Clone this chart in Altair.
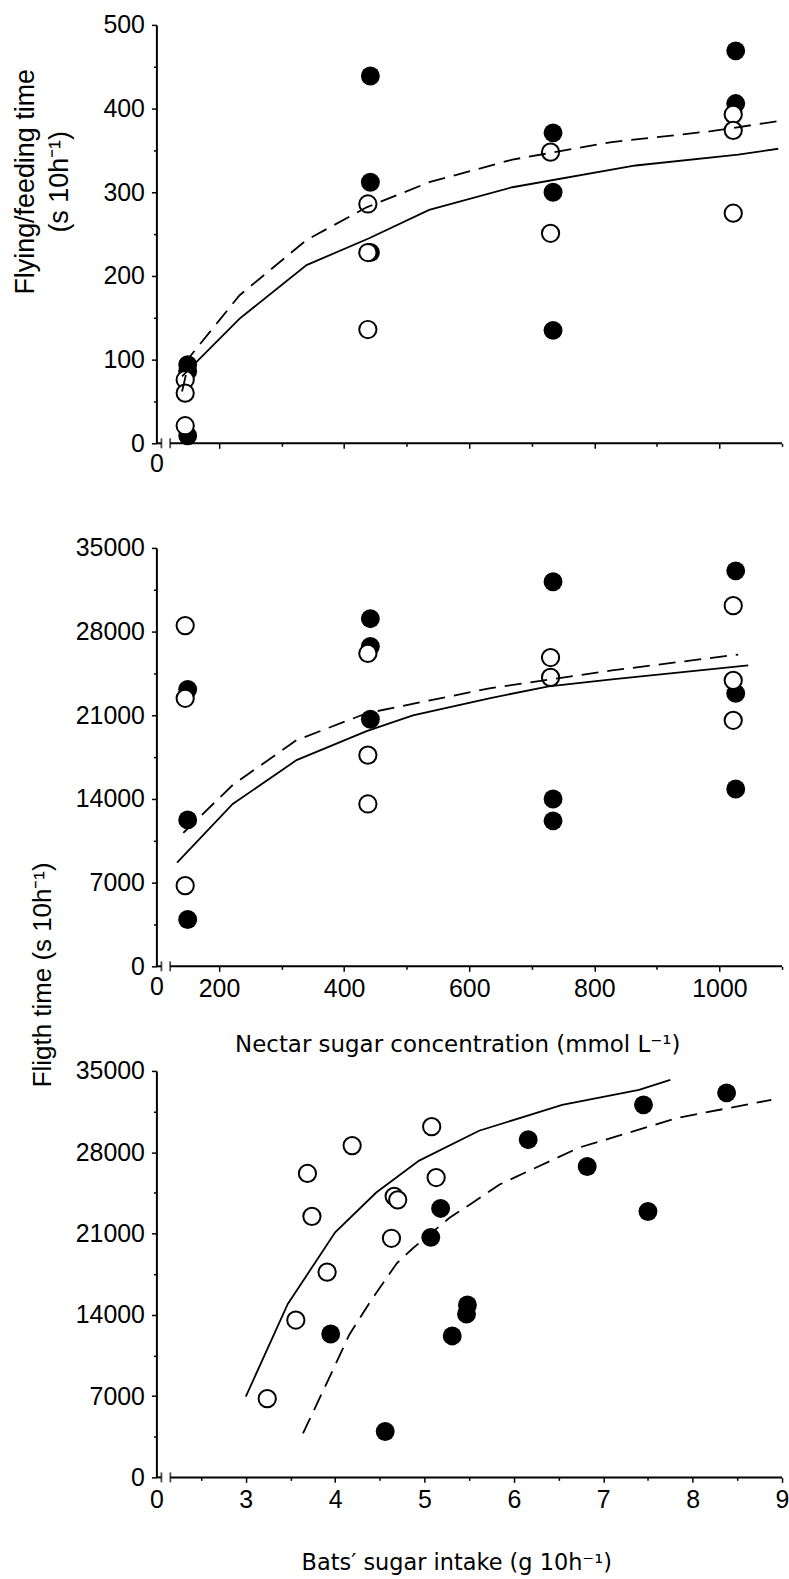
import altair as alt
import pandas as pd

# ---------------- data ----------------
# Panel 1: flying/feeding time vs nectar sugar concentration (mmol/L)
P1_FILLED_X = [150, 150, 150, 442, 442, 442, 734, 734, 734, 1026, 1026]
P1_FILLED_Y = [94, 86, 9, 439, 312, 228, 371, 300, 135, 469, 406]
P1_OPEN_X = [146, 146, 146, 438, 438, 438, 730, 730, 1022, 1022, 1022]
P1_OPEN_Y = [76, 60, 21, 286, 228, 136, 348, 251, 393, 374, 275]
P1_SOLID_X = [141, 233, 340, 440, 536, 669, 866, 1030, 1094]
P1_SOLID_Y = [80, 149, 213, 245, 279, 306, 332, 345, 352]
P1_DASH_X = [141, 154, 233, 340, 436, 536, 669, 828, 987, 1094]
P1_DASH_Y = [62, 104, 177, 243, 282, 312, 339, 360, 373, 385]

# Panel 2: flight time vs nectar sugar concentration
P2_FILLED_X = [150, 150, 150, 442, 442, 442, 734, 734, 734, 1026, 1026, 1026]
P2_FILLED_Y = [23170, 12250, 3920, 29080, 26750, 20670, 32170, 14000, 12170, 33080, 22830, 14830]
P2_OPEN_X = [146, 146, 146, 438, 438, 438, 730, 730, 1022, 1022, 1022]
P2_OPEN_Y = [28500, 22420, 6750, 26170, 17670, 13580, 25830, 24170, 30170, 23920, 20580]
P2_SOLID_X = [133, 222, 324, 436, 510, 632, 727, 828, 1046]
P2_SOLID_Y = [8670, 13580, 17250, 19670, 21000, 22420, 23420, 24000, 25170]
P2_DASH_X = [143, 222, 324, 436, 632, 828, 1030]
P2_DASH_Y = [11170, 15170, 18920, 21170, 23250, 24750, 26080]

# Panel 3: flight time vs bats' sugar intake (g/10h)
P3_FILLED_X = [3.95, 4.56, 5.07, 5.18, 5.48, 5.47, 5.31, 6.16, 6.82, 7.45, 7.50, 8.38]
P3_FILLED_Y = [12350, 3950, 20670, 23160, 14840, 14070, 12180, 29080, 26770, 32080, 22900, 33110]
P3_OPEN_X = [3.24, 3.56, 3.69, 3.74, 3.91, 4.19, 4.63, 4.66, 4.70, 5.08, 5.13]
P3_OPEN_Y = [6780, 13550, 26170, 22480, 17670, 28570, 20590, 24200, 23900, 30200, 25820]
P3_SOLID_X = [3.00, 3.47, 4.00, 4.46, 4.94, 5.61, 6.54, 7.40, 7.75]
P3_SOLID_Y = [6950, 14930, 21100, 24530, 27280, 29850, 32080, 33370, 34230]
P3_DASH_X = [3.64, 3.94, 4.16, 4.39, 4.69, 4.87, 5.28, 5.50, 5.84, 6.73, 7.84, 8.88]
P3_DASH_Y = [3780, 8680, 12310, 15100, 18440, 19730, 22350, 23460, 25220, 28400, 30970, 32510]

# axes
CONC_DOMAIN = [100, 1100]
CONC_TICKS = [100, 200, 300, 400, 500, 600, 700, 800, 900, 1000, 1100]
CONC_BREAK = [108, 122]
INTAKE_DOMAIN = [2, 9]
INTAKE_TICKS = [2, 2.5, 3, 3.5, 4, 4.5, 5, 5.5, 6, 6.5, 7, 7.5, 8, 8.5, 9]
INTAKE_BREAK = [2.056, 2.156]
P1_Y_TICKS = [0, 50, 100, 150, 200, 250, 300, 350, 400, 450, 500]
FT_Y_TICKS = [0, 3500, 7000, 10500, 14000, 17500, 21000, 24500, 28000, 31500, 35000]

TITLE_P1 = ["Flying/feeding time", "(s 10h\u207b\u00b9)"]
TITLE_FT = "Fligth time (s 10h\u207b\u00b9)"
TITLE_CONC = "Nectar sugar concentration (mmol L\u207b\u00b9)"
TITLE_INTAKE = "Bats\u2032 sugar intake (g 10h\u207b\u00b9)"

NUM_FONT = "Liberation Sans"
TXT_FONT = "DejaVu Sans"


def make_df(fx, fy, ox, oy, sx, sy, dx, dy):
    parts = [
        pd.DataFrame({"x": fx, "y": fy, "kind": "filled"}),
        pd.DataFrame({"x": ox, "y": oy, "kind": "open"}),
        pd.DataFrame({"x": sx, "y": sy, "kind": "solid"}),
        pd.DataFrame({"x": dx, "y": dy, "kind": "dashed"}),
    ]
    return pd.concat(parts, ignore_index=True)


def common_axis(**kw):
    base = dict(
        tickWidth=1.5, tickColor="black",
        labelFont=NUM_FONT, labelFontSize=25, labelColor="black",
        labelOverlap=False, labelFlush=False, grid=False,
        titleColor="black", titleFontWeight="normal",
    )
    base.update(kw)
    return alt.Axis(**base)


def panel(df, xdom, xticks, xbreak, xlabel_expr, x_hide_tick, x_major_test,
          ydom, yticks, ylabel_expr, y_major_test,
          height, ytitle=None, ytitle_kw=None, xtitle=None, xtitle_kw=None):
    xkw = dict(values=xticks, labelExpr=xlabel_expr, domain=False, labelPadding=5,
               tickSize={"condition": {"test": x_major_test, "value": 5}, "value": 3},
               tickOpacity={"condition": {"test": "datum.value == %s" % x_hide_tick, "value": 0}, "value": 1})
    if xtitle:
        xkw.update(title=xtitle, titleFont=TXT_FONT, titleAlign="center",
                   titleBaseline="alphabetic", **xtitle_kw)
    else:
        xkw.update(title=None)
    ykw = dict(values=yticks, labelExpr=ylabel_expr, domain=True, domainColor="black",
               domainWidth=2, labelPadding=7,
               tickSize={"condition": {"test": y_major_test, "value": 5}, "value": 3})
    if ytitle:
        ykw.update(title=ytitle, titleFont=NUM_FONT, titleAngle=270, titleAlign="center",
                   titleBaseline="alphabetic", **ytitle_kw)
    else:
        ykw.update(title=None)
    X = alt.X("x:Q", scale=alt.Scale(domain=xdom, nice=False, zero=False), axis=common_axis(**xkw))
    Y = alt.Y("y:Q", scale=alt.Scale(domain=ydom, nice=False, zero=False), axis=common_axis(**ykw))

    base = alt.Chart(df).encode(x=X, y=Y)
    filled = base.transform_filter("datum.kind == 'filled'").mark_circle(
        color="black", size=360, opacity=1)
    opened = base.transform_filter("datum.kind == 'open'").mark_circle(
        fill="white", stroke="black", strokeWidth=2, size=300, opacity=1)
    solid = base.transform_filter("datum.kind == 'solid'").mark_line(
        color="black", strokeWidth=1.8)
    dashed = base.transform_filter("datum.kind == 'dashed'").mark_line(
        color="black", strokeWidth=1.8, strokeDash=[17, 9])

    axdf = pd.DataFrame({"x": [xdom[0], xbreak[1]], "x2": [xbreak[0], xdom[1]], "y": [ydom[0], ydom[0]]})
    axline = alt.Chart(axdf).mark_rule(color="black", strokeWidth=2).encode(
        x=X, x2=alt.X2("x2:Q"), y=Y)
    brdf = pd.DataFrame({"x": xbreak, "y": [ydom[0], ydom[0]]})
    breaks = alt.Chart(brdf).mark_tick(orient="vertical", color="black", thickness=1.8, size=10).encode(
        x=X, y=Y)
    return alt.layer(filled, opened, solid, dashed, axline, breaks).properties(width=628, height=height)


df1 = make_df(P1_FILLED_X, P1_FILLED_Y, P1_OPEN_X, P1_OPEN_Y, P1_SOLID_X, P1_SOLID_Y, P1_DASH_X, P1_DASH_Y)
df2 = make_df(P2_FILLED_X, P2_FILLED_Y, P2_OPEN_X, P2_OPEN_Y, P2_SOLID_X, P2_SOLID_Y, P2_DASH_X, P2_DASH_Y)
df3 = make_df(P3_FILLED_X, P3_FILLED_Y, P3_OPEN_X, P3_OPEN_Y, P3_SOLID_X, P3_SOLID_Y, P3_DASH_X, P3_DASH_Y)

p1 = panel(df1, CONC_DOMAIN, CONC_TICKS, CONC_BREAK,
           "datum.value == 100 ? '0' : ''", 100, "datum.value % 200 == 0",
           [0, 500], P1_Y_TICKS, "datum.value % 100 == 0 ? '' + datum.value : ''", "datum.value % 100 == 0",
           420, ytitle=TITLE_P1,
           ytitle_kw=dict(titleX=-123, titleY=157, titleFontSize=27, titleLineHeight=34))

p2 = panel(df2, CONC_DOMAIN, CONC_TICKS, CONC_BREAK,
           "datum.value == 100 ? '0' : (datum.value % 200 == 0 ? '' + datum.value : '')", 100,
           "datum.value % 200 == 0",
           [0, 35000], FT_Y_TICKS, "datum.value % 7000 == 0 ? '' + datum.value : ''", "datum.value % 7000 == 0",
           420, ytitle=TITLE_FT, ytitle_kw=dict(titleX=-106, titleY=428, titleFontSize=26),
           xtitle=TITLE_CONC, xtitle_kw=dict(titleX=302, titleY=85, titleFontSize=23))

p3 = panel(df3, INTAKE_DOMAIN, INTAKE_TICKS, INTAKE_BREAK,
           "datum.value == 2 ? '0' : (datum.value % 1 == 0 ? '' + datum.value : '')", 2,
           "datum.value % 1 == 0",
           [0, 35000], FT_Y_TICKS, "datum.value % 7000 == 0 ? '' + datum.value : ''", "datum.value % 7000 == 0",
           408, xtitle=TITLE_INTAKE, xtitle_kw=dict(titleX=301, titleY=92, titleFontSize=22.5))

chart = alt.vconcat(p1, p2, p3, spacing=105, bounds="flush").properties(
    padding={"left": 12, "top": 10, "right": 0, "bottom": 0},
    background="white",
).configure_view(stroke=None)

chart.save("out.html", embed_options={"renderer": "svg", "actions": False})
